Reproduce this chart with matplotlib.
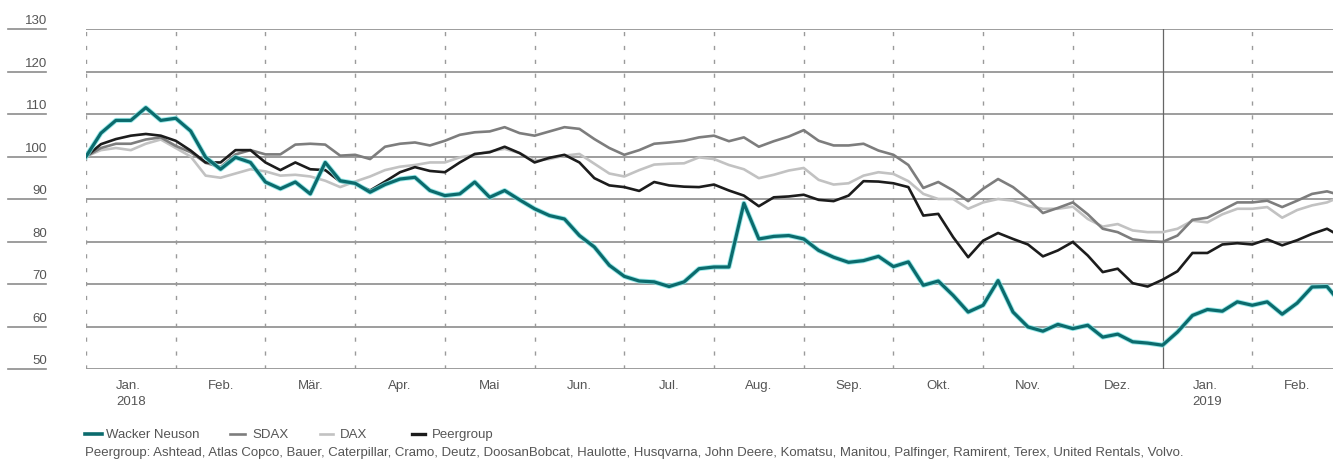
import numpy as np
import matplotlib
matplotlib.use("Agg")
import matplotlib.pyplot as plt
import matplotlib.transforms as mtransforms
import matplotlib.patheffects as pe
from matplotlib.lines import Line2D

plt.rcParams['font.family'] = ['Liberation Sans', 'DejaVu Sans']

# ---- data (index, start Jan 2018 = 100); x in months since 1 Jan 2018 ----
month_pos = np.append(np.arange(84) / 6, 13.9)

wacker = [100, 105.5, 108.5, 108.5, 111.5, 108.5, 109, 106, 99.8, 97, 99.8, 98.6,
          94, 92.4, 94, 91.2, 98.6, 94.3, 93.7, 91.6, 93.4, 94.7, 95.1, 92.0,
          90.8, 91.2, 94, 90.4, 92, 89.8, 87.7, 86.1, 85.3, 81.4, 78.7, 74.4,
          71.8, 70.7, 70.5, 69.4, 70.5, 73.6, 74, 74, 89, 80.6, 81.2, 81.4,
          80.6, 77.9, 76.3, 75.1, 75.5, 76.5, 74.1, 75.2, 69.7, 70.7, 67.3, 63.4,
          65, 70.8, 63.4, 59.9, 58.9, 60.5, 59.5, 60.3, 57.5, 58.2, 56.4, 56.1,
          55.6, 58.7, 62.6, 64, 63.6, 65.8, 65, 65.8, 62.9, 65.5, 69.3, 69.4, 67.7]

sdax = [100, 102, 103, 103, 104, 104.5, 102.5, 101, 98.5, 97.5, 100.5, 101.5,
        100.5, 100.5, 102.8, 103, 102.8, 100.2, 100.4, 99.4, 102.3, 103, 103.3, 102.6,
        103.7, 105.1, 105.7, 105.9, 106.9, 105.5, 104.9, 105.9, 106.9, 106.5, 104.1, 102,
        100.4, 101.5, 103, 103.3, 103.7, 104.5, 104.9, 103.6, 104.5, 102.3, 103.6, 104.7,
        106.2, 103.7, 102.6, 102.6, 103, 101.4, 100.4, 98, 92.6, 94, 92, 89.5,
        92.4, 94.7, 92.8, 90, 86.7, 87.9, 89.2, 86.4, 83, 82.2, 80.5, 80.1,
        79.9, 81.4, 85.1, 85.6, 87.4, 89.2, 89.2, 89.6, 88.1, 89.6, 91.2, 91.8, 91.4]

dax = [100, 101.5, 102, 101.5, 103, 104, 102, 100, 95.5, 95, 96, 97,
       96.5, 95.5, 95.7, 95.3, 94.3, 92.8, 94.1, 95.3, 96.8, 97.6, 98, 98.6,
       98.6, 99.8, 100.4, 101.2, 101.8, 100.8, 99, 99.4, 100.2, 100.6, 98.3, 96,
       95.3, 96.8, 98.1, 98.3, 98.4, 99.8, 99.4, 98, 97, 94.9, 95.7, 96.7,
       97.3, 94.5, 93.4, 93.7, 95.5, 96.3, 95.9, 94.2, 91.2, 90, 90, 87.7,
       89.2, 90, 89.6, 88.4, 87.7, 87.7, 88.2, 85.3, 83.5, 84.1, 82.6, 82.2,
       82.2, 83, 84.9, 84.5, 86.4, 87.7, 87.7, 88.1, 85.6, 87.4, 88.5, 89.2, 89.8]

peergroup = [100, 102.9, 104.1, 104.9, 105.3, 104.9, 103.7, 101.4, 98.6, 98.6, 101.5, 101.5,
             98.6, 96.8, 98.6, 97, 96.8, 94.1, 93.6, 92, 94.1, 96.3, 97.5, 96.6,
             96.3, 98.6, 100.6, 101, 102.3, 100.8, 98.6, 99.7, 100.4, 98.6, 94.9, 93.2,
             92.8, 91.9, 94, 93.2, 92.9, 92.8, 93.4, 92, 90.8, 88.3, 90.4, 90.6,
             91, 89.8, 89.5, 90.8, 94.2, 94.1, 93.7, 92.8, 86.1, 86.5, 81, 76.3,
             80.2, 82, 80.6, 79.3, 76.5, 77.9, 79.9, 76.7, 72.8, 73.6, 70.2, 69.4,
             71, 73, 77.3, 77.3, 79.3, 79.6, 79.3, 80.5, 79.1, 80.3, 81.8, 83, 82.2]

month_labels = ['Jan.\n2018', 'Feb.', 'Mär.', 'Apr.', 'Mai', 'Jun.', 'Jul.', 'Aug.',
                'Sep.', 'Okt.', 'Nov.', 'Dez.', 'Jan.\n2019', 'Feb.']
y_ticks = [50, 60, 70, 80, 90, 100, 110, 120, 130]

legend_names = ['Wacker Neuson', 'SDAX', 'DAX', 'Peergroup']
footnote = ('Peergroup: Ashtead, Atlas Copco, Bauer, Caterpillar, Cramo, Deutz, DoosanBobcat, '
            'Haulotte, Husqvarna, John Deere, Komatsu, Manitou, Palfinger, Ramirent, Terex, '
            'United Rentals, Volvo.')

# ---- styles ----
C_WACKER = '#0b6b6d'
C_GLOW = '#7fe3e3'
C_SDAX = '#7d7d7d'
C_DAX = '#c2c2c2'
C_PEER = '#1c1c1c'
C_GRID = '#8c8c8c'
C_TEXT = '#555555'
FS = 9.5

W, H = 1333, 460
fig = plt.figure(figsize=(W / 100, H / 100), dpi=100)
ax = fig.add_axes([86 / W, (H - 370) / H, (W - 86) / W, 340 / H])
ax.set_xlim(0, 13.9)
ax.set_ylim(50, 130)
for s in ax.spines.values():
    s.set_visible(False)

# horizontal grid
for v in y_ticks:
    ax.axhline(v, color=C_GRID, lw=1.2, zorder=1)

# vertical month lines
for m in range(14):
    if m == 12:
        ax.axvline(m, color='#666666', lw=0.9, zorder=1)
    else:
        ax.axvline(m, color='#9a9a9a', lw=1.0, ls=(0, (3, 7)), zorder=1)

# series
ax.plot(month_pos, dax, color=C_DAX, lw=1.9, zorder=3)
ax.plot(month_pos, sdax, color=C_SDAX, lw=1.9, zorder=4)
ax.plot(month_pos, peergroup, color=C_PEER, lw=1.9, zorder=5)
ax.plot(month_pos, wacker, color=C_WACKER, lw=2.3, zorder=6,
        path_effects=[pe.Stroke(linewidth=3.6, foreground=C_GLOW, alpha=0.8), pe.Normal()])

# x labels (month centres)
ax.set_xticks(np.arange(14) + 0.5)
ax.set_xticklabels(month_labels, fontsize=FS, color=C_TEXT, linespacing=1.45,
                   multialignment='left')
ax.tick_params(axis='x', length=0, pad=7)
ax.set_yticks([])

# y labels with underline at left
blend = mtransforms.blended_transform_factory(ax.transAxes, ax.transData)
off = mtransforms.ScaledTranslation(0, 4 / 72, fig.dpi_scale_trans)
for v in y_ticks:
    ax.plot([(8 - 86) / (W - 86), (46 - 86) / (W - 86)], [v, v], transform=blend,
            color=C_GRID, lw=1.2, clip_on=False)
    ax.text((47 - 86) / (W - 86), v, str(v), transform=blend + off, ha='right',
            va='baseline', fontsize=FS, color=C_TEXT)

# legend (manual)
ly = (H - 435) / H
handles = [(85, 102, C_WACKER, 2.6), (230, 245, C_SDAX, 1.9),
           (320, 333, C_DAX, 1.9), (412, 425, C_PEER, 2.4)]
text_x = [106, 252, 340, 432]
for (x0, x1, c, lw), tx, name in zip(handles, text_x, legend_names):
    fig.add_artist(Line2D([x0 / W, x1 / W], [ly, ly], color=c, lw=lw,
                          transform=fig.transFigure))
    fig.text(tx / W, ly, name, ha='left', va='center', fontsize=FS, color=C_TEXT)

fig.text(85 / W, (H - 453) / H, footnote, ha='left', va='center', fontsize=FS, color=C_TEXT)

fig.savefig('out.png', dpi=100, facecolor='white')
